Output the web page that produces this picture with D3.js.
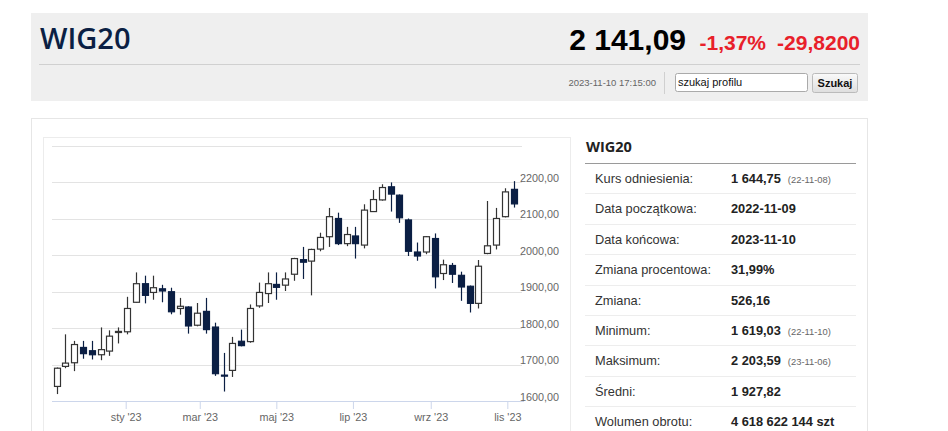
<!DOCTYPE html>
<html><head><meta charset="utf-8">
<script src="https://cdn.jsdelivr.net/npm/d3@7"></script>
<style>
html,body{margin:0;padding:0;background:#fff;overflow:hidden;}
svg{display:block;font-family:"Liberation Sans",Arial,sans-serif;}
</style></head>
<body><svg id="c" width="948" height="431"></svg>
<script>
// ---- data ----
const weeks = ["2022-11-07","2022-11-14","2022-11-21","2022-11-28","2022-12-05","2022-12-12","2022-12-19","2022-12-26",
"2023-01-02","2023-01-09","2023-01-16","2023-01-23","2023-01-30","2023-02-06","2023-02-13","2023-02-20","2023-02-27",
"2023-03-06","2023-03-13","2023-03-20","2023-03-27","2023-04-03","2023-04-10","2023-04-17","2023-04-24",
"2023-05-01","2023-05-08","2023-05-15","2023-05-22","2023-05-29","2023-06-05","2023-06-12","2023-06-19","2023-06-26",
"2023-07-03","2023-07-10","2023-07-17","2023-07-24","2023-07-31","2023-08-07","2023-08-14","2023-08-21","2023-08-28",
"2023-09-04","2023-09-11","2023-09-18","2023-09-25","2023-10-02","2023-10-09","2023-10-16","2023-10-23","2023-10-30","2023-11-06"];
const opens  = [1640,1695,1705,1747,1738,1727,1737,1788,1790,1871,1922,1898,1908,1900,1854,1858,1808,1846,1803,1671,1684,1764,1763,1861,1895,1920,1918,1948,1988,1984,2017,2051,2101,2032,2053,2028,2120,2152,2188,2165,2097,2009,2009,2046,1950,1972,1945,1915,1868,2005,2028,2106,2181];
const highs  = [1692,1783,1765,1765,1765,1802,1794,1802,1886,1953,1944,1944,1919,1911,1883,1860,1869,1883,1815,1732,1776,1796,1865,1925,1953,1953,1953,1993,2023,2018,2062,2130,2117,2078,2078,2140,2179,2195,2200,2167,2101,2035,2053,2060,1988,1979,1955,1917,1987,2149,2130,2184,2203.59];
const lows   = [1619.03,1690,1682,1716,1714,1712,1724,1758,1783,1870,1868,1878,1871,1838,1837,1785,1805,1785,1669,1626,1666,1750,1760,1856,1869,1878,1902,1930,1935,1890,2011,2023,2028,2025,1991,2019,2119,2150,2120,2089,1998,1985,2003,1909,1932,1924,1875,1843,1854,2003,2016,2104,2131];
const closes = [1690,1704,1755,1730,1727,1741,1778,1791,1854,1922,1890,1911,1902,1845,1860,1806,1841,1796,1675,1669,1758,1752,1854,1898,1922,1912,1935,1991,1981,2016,2049,2106,2032,2057,2032,2124,2153,2186,2168,2103,2011,1998,2051,1941,1974,1948,1913,1868,1970,2026,2101,2174,2141.09];
const yTicks = [1600,1700,1800,1900,2000,2100,2200,2300];
const xTickDates = ["2023-01-01","2023-03-01","2023-05-01","2023-07-01","2023-09-01","2023-11-01"];
const xTickLabels = ["sty '23","mar '23","maj '23","lip '23","wrz '23","lis '23"];
const rowLabels = ["Kurs odniesienia:","Data początkowa:","Data końcowa:","Zmiana procentowa:","Zmiana:","Minimum:","Maksimum:","Średni:","Wolumen obrotu:"];
const rowValues = ["1 644,75","2022-11-09","2023-11-10","31,99%","526,16","1 619,03","2 203,59","1 927,82","4 618 622 144 szt"];
const rowNotes  = ["(22-11-08)","","","","","(22-11-10)","(23-11-06)","",""];

const svg = d3.select("#c");
const parse = d3.utcParse("%Y-%m-%d");
const NAVY = "#0b1f44";

// ---- header panel ----
svg.append("rect").attr("x",31).attr("y",13).attr("width",837).attr("height",88).attr("fill","#efefef");
svg.append("text").attr("x",40).attr("y",49).text("WIG20")
  .attr("font-family","'Open Sans',sans-serif").attr("font-weight",600).attr("font-size",29).attr("fill",NAVY);
svg.append("text").attr("x",686).attr("y",50).attr("text-anchor","end").text("2 141,09")
  .attr("font-weight","bold").attr("font-size",30).attr("fill","#000");
svg.append("text").attr("x",766).attr("y",50).attr("text-anchor","end").text("-1,37%")
  .attr("font-weight","bold").attr("font-size",21).attr("fill","#e8202a");
svg.append("text").attr("x",860).attr("y",50).attr("text-anchor","end").text("-29,8200")
  .attr("font-weight","bold").attr("font-size",21).attr("fill","#e8202a");
svg.append("line").attr("x1",39).attr("x2",860).attr("y1",64.5).attr("y2",64.5).attr("stroke","#d0d0d0");
svg.append("text").attr("x",656).attr("y",86).attr("text-anchor","end").text("2023-11-10 17:15:00")
  .attr("font-size",9.5).attr("fill","#666");
svg.append("line").attr("x1",664.5).attr("x2",664.5).attr("y1",72).attr("y2",94).attr("stroke","#d0d0d0");
svg.append("rect").attr("x",675.5).attr("y",73.5).attr("width",132).attr("height",18).attr("rx",2)
  .attr("fill","#fff").attr("stroke","#aaa");
svg.append("text").attr("x",678).attr("y",86).text("szukaj profilu").attr("font-size",11).attr("fill","#111");
const grad = svg.append("defs").append("linearGradient").attr("id","btn").attr("x1",0).attr("x2",0).attr("y1",0).attr("y2",1);
grad.append("stop").attr("offset","0").attr("stop-color","#fafafa");
grad.append("stop").attr("offset","1").attr("stop-color","#dedede");
svg.append("rect").attr("x",812.5).attr("y",73.5).attr("width",45).attr("height",19).attr("rx",2)
  .attr("fill","url(#btn)").attr("stroke","#bbb");
svg.append("text").attr("x",835).attr("y",87).attr("text-anchor","middle").text("Szukaj")
  .attr("font-size",11).attr("font-weight","bold").attr("fill","#111");

// ---- content panel ----
svg.append("rect").attr("x",31.5).attr("y",118.5).attr("width",836).attr("height",330)
  .attr("fill","#fff").attr("stroke","#e6e6e6");
svg.append("rect").attr("x",43.5).attr("y",137.5).attr("width",527).attr("height",320)
  .attr("fill","#fff").attr("stroke","#ececec");

// ---- chart ----
const x = d3.scaleUtc().domain([Date.UTC(2022,10,3,7), Date.UTC(2023,10,14,7)]).range([52,524]);
const y = d3.scaleLinear().domain([1600,2300]).range([401,146]);

const grid = svg.append("g");
grid.selectAll("line").data(yTicks.slice(1)).join("line")
  .attr("x1",52).attr("x2",522).attr("y1",d=>Math.round(y(d))+0.5).attr("y2",d=>Math.round(y(d))+0.5)
  .attr("stroke","#e3e3e3").attr("stroke-width",1);

const yAxis = d3.axisRight(y).tickValues(yTicks.slice(0,-1)).tickSize(0)
  .tickFormat(d=>d3.format(".2f")(d).replace(".",","));
const ga = svg.append("g").attr("transform","translate(518,0)").call(yAxis);
ga.select(".domain").remove();
ga.selectAll("text").attr("x",2).attr("dy",null).attr("transform","translate(0,-1)")
  .attr("font-family","'Liberation Sans',Arial,sans-serif").attr("font-size",10.8).attr("fill","#666");

const xAxis = d3.axisBottom(x).tickValues(xTickDates.map(parse)).tickSize(8).tickPadding(4)
  .tickFormat((d,i)=>xTickLabels[i]);
const gx = svg.append("g").attr("transform","translate(0,401)").call(xAxis);
gx.select(".domain").attr("d","M52,0.5H524").attr("stroke","#ccd6eb");
gx.selectAll(".tick line").attr("stroke","#ccd6eb");
gx.selectAll("text").attr("font-family","'Liberation Sans',Arial,sans-serif").attr("font-size",10.8).attr("fill","#666");

const candles = svg.append("g");
const idx = d3.range(weeks.length);
const cx = i => Math.round(x(parse(weeks[i])));
candles.selectAll("line").data(idx).join("line")
  .attr("x1",i=>cx(i)+0.5).attr("x2",i=>cx(i)+0.5)
  .attr("y1",i=>y(highs[i])).attr("y2",i=>y(lows[i]))
  .attr("stroke",i=>closes[i]>=opens[i]?"#333":NAVY).attr("stroke-width",1.2);
candles.selectAll("rect").data(idx).join("rect")
  .attr("x",i=>cx(i)-2.5).attr("width",6)
  .attr("y",i=>y(Math.max(opens[i],closes[i])))
  .attr("height",i=>Math.max(1,Math.abs(y(opens[i])-y(closes[i]))))
  .attr("fill",i=>closes[i]>=opens[i]?"#fff":NAVY)
  .attr("stroke",i=>closes[i]>=opens[i]?"#333":NAVY).attr("stroke-width",1.2);

// ---- table ----
svg.append("text").attr("x",586).attr("y",152).text("WIG20")
  .attr("font-family","'Open Sans',sans-serif").attr("font-weight",700).attr("font-size",14.5).attr("fill","#222");
svg.append("line").attr("x1",585).attr("x2",856).attr("y1",163.5).attr("y2",163.5).attr("stroke","#9a9a9a");
const rows = svg.append("g");
rowLabels.forEach((lab,i)=>{
  const by = 183 + i*30.4;
  rows.append("text").attr("x",595).attr("y",by).text(lab).attr("font-size",12.8).attr("fill","#333");
  const v = rows.append("text").attr("x",731).attr("y",by).text(rowValues[i])
    .attr("font-size",12.8).attr("font-weight","bold").attr("fill","#222");
  if(rowNotes[i]){
    const w = v.node().getComputedTextLength();
    rows.append("text").attr("x",731+w+7).attr("y",by).text(rowNotes[i]).attr("font-size",9.4).attr("fill","#666");
  }
  if(i<8) rows.append("line").attr("x1",585).attr("x2",856).attr("y1",Math.round(193.3+i*30.4)+0.5)
    .attr("y2",Math.round(193.3+i*30.4)+0.5).attr("stroke","#ededed");
});
</script></body></html>
